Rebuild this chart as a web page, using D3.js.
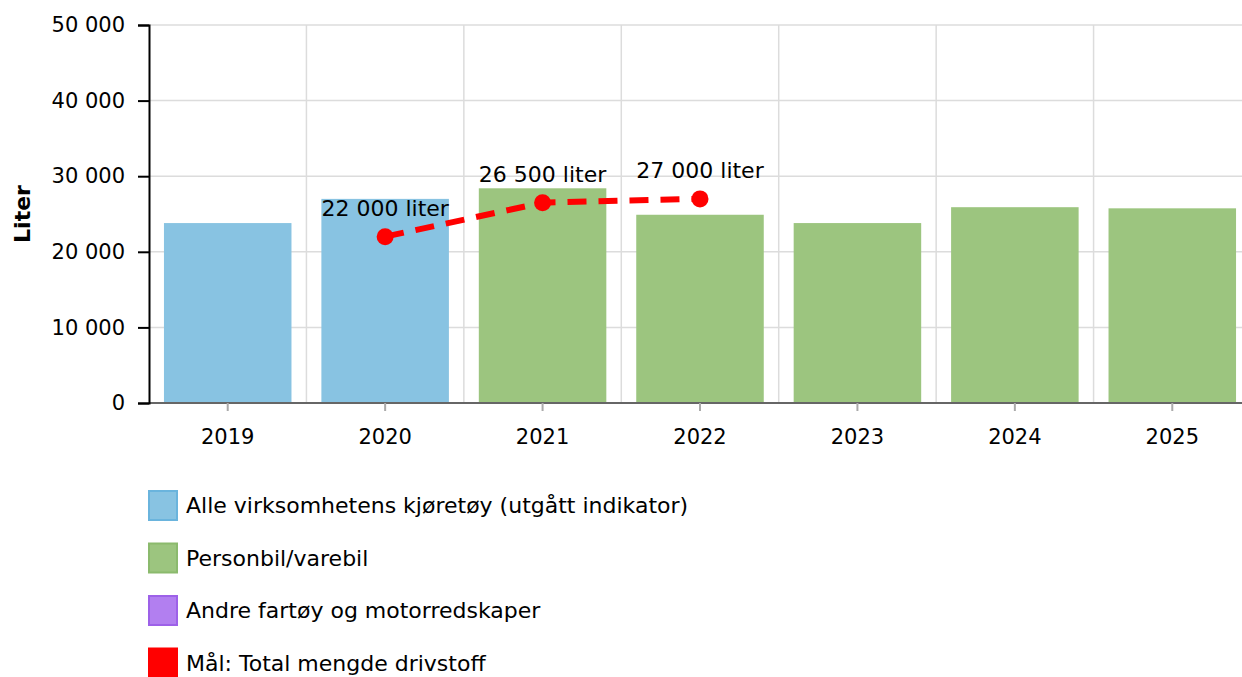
<!DOCTYPE html>
<html>
<head>
<meta charset="utf-8">
<script src="https://cdn.jsdelivr.net/npm/d3@7"></script>
<style>
  body { margin: 0; background: #fff; }
  text { font-family: Verdana, "DejaVu Sans", sans-serif; }
</style>
</head>
<body>
<svg id="graph"></svg>
<script>
const width = 1242;
const height = 677;
const margin = {top: 25, bottom: 274, left: 149, right: -9};

// data
const years = ['2019', '2020', '2021', '2022', '2023', '2024', '2025'];
const allVehicles = [23800, 27000, null, null, null, null, null];
const carsVans = [null, null, 28400, 24900, 23800, 25900, 25750];
const targetYears = ['2020', '2021', '2022'];
const targetValues = [22000, 26500, 27000];
const targetLabels = ['22 000 liter', '26 500 liter', '27 000 liter'];
const yTicks = [0, 10000, 20000, 30000, 40000, 50000];
const legendNames = ['Alle virksomhetens kjøretøy (utgått indikator)', 'Personbil/varebil', 'Andre fartøy og motorredskaper', 'Mål: Total mengde drivstoff'];

const colors = {blue: '#88c3e2', green: '#9cc57f', purple: '#b27ff0', red: '#ff0000'};
const borders = ['#6ab4dd', '#8bba6d', '#9d61e8', '#ff0000'];
const fills = [colors.blue, colors.green, colors.purple, colors.red];

const graph = d3.select('#graph')
  .attr('width', width)
  .attr('height', height);

const x_scale = d3.scaleBand().domain(years).range([margin.left, width - margin.right]).padding(0);
const y_scale = d3.scaleLinear().domain([0, 50000]).range([height - margin.bottom, margin.top]);

const fmt = v => d3.format(',')(v).replace(/,/g, ' ');

// horizontal grid
graph.append('g')
  .selectAll('line')
  .data(yTicks)
  .enter().append('line')
  .attr('x1', margin.left).attr('x2', width)
  .attr('y1', d => y_scale(d)).attr('y2', d => y_scale(d))
  .attr('stroke', '#dcdcdc').attr('stroke-width', 1.5);

// vertical grid at band boundaries
graph.append('g')
  .selectAll('line')
  .data(years.slice(1))
  .enter().append('line')
  .attr('x1', d => x_scale(d)).attr('x2', d => x_scale(d))
  .attr('y1', margin.top).attr('y2', y_scale(0))
  .attr('stroke', '#dcdcdc').attr('stroke-width', 1.5);

// bars
const barW = x_scale.bandwidth() * 0.81;
const drawBars = (vals, color) => {
  graph.append('g')
    .selectAll('rect')
    .data(years.map((y, i) => ({year: y, value: vals[i]})).filter(d => d.value != null))
    .enter().append('rect')
    .attr('x', d => x_scale(d.year) + (x_scale.bandwidth() - barW) / 2)
    .attr('y', d => y_scale(d.value))
    .attr('width', barW)
    .attr('height', d => y_scale(0) - y_scale(d.value))
    .style('fill', color);
};
drawBars(allVehicles, colors.blue);
drawBars(carsVans, colors.green);

// axes
const x_axis = d3.axisBottom(x_scale).tickSize(8).tickSizeOuter(0).tickPadding(18);
const gx = graph.append('g')
  .attr('transform', `translate(0,${y_scale(0)})`)
  .call(x_axis);
gx.select('.domain').attr('stroke', '#666').attr('stroke-width', 2).attr('d', `M${margin.left},0H${width}`);
gx.selectAll('.tick line').attr('stroke', '#aaa').attr('stroke-width', 2);
gx.selectAll('.tick text').attr('font-size', 21).attr('fill', '#000')
  .style('font-family', 'Verdana, "DejaVu Sans", sans-serif');

const y_axis = d3.axisLeft(y_scale).tickValues(yTicks).tickFormat(fmt).tickSize(11).tickSizeOuter(11).tickPadding(13);
const gy = graph.append('g')
  .attr('transform', `translate(${margin.left},0)`)
  .call(y_axis);
gy.select('.domain').attr('stroke', '#000').attr('stroke-width', 2);
gy.selectAll('.tick line').attr('stroke', '#000').attr('stroke-width', 2);
gy.selectAll('.tick text').attr('font-size', 21).attr('fill', '#000')
  .style('font-family', 'Verdana, "DejaVu Sans", sans-serif');

graph.append('text')
  .attr('transform', `translate(30,${(y_scale(0) + y_scale(50000)) / 2}) rotate(-90)`)
  .attr('text-anchor', 'middle')
  .attr('font-size', 22).attr('font-weight', 'bold')
  .text('Liter');

// target line
const target = targetYears.map((y, i) => ({year: y, value: targetValues[i], label: targetLabels[i]}));
const cx = d => x_scale(d.year) + x_scale.bandwidth() / 2;
const line = d3.line().x(cx).y(d => y_scale(d.value));

graph.append('path')
  .datum(target)
  .attr('d', line)
  .attr('fill', 'none')
  .attr('stroke', colors.red)
  .attr('stroke-width', 6)
  .attr('stroke-dasharray', '19,12');

graph.append('g')
  .selectAll('circle')
  .data(target)
  .enter().append('circle')
  .attr('cx', cx).attr('cy', d => y_scale(d.value))
  .attr('r', 8.5)
  .attr('fill', colors.red);

graph.append('g')
  .selectAll('text')
  .data(target)
  .enter().append('text')
  .attr('x', cx).attr('y', d => y_scale(d.value) - 21)
  .attr('text-anchor', 'middle')
  .attr('font-size', 22)
  .text(d => d.label);

// legend
const legend = graph.append('g')
  .selectAll('g')
  .data(legendNames)
  .enter().append('g')
  .attr('transform', (d, i) => `translate(148,${490 + i * 52.5})`);

legend.append('rect')
  .attr('x', 1).attr('y', 1)
  .attr('width', 28).attr('height', 29)
  .attr('fill', (d, i) => fills[i])
  .attr('stroke', (d, i) => borders[i])
  .attr('stroke-width', 2);

legend.append('text')
  .attr('x', 38).attr('y', 23)
  .attr('font-size', 22)
  .text(d => d);
</script>
</body>
</html>
